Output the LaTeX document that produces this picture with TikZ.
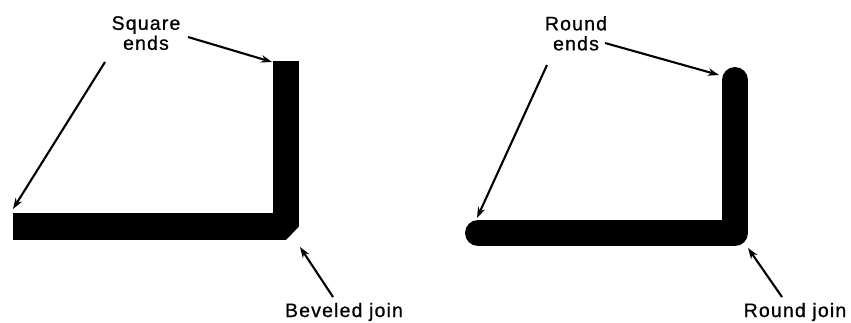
\documentclass[tikz,border=0pt]{standalone}
\usepackage{fontspec}
\setmainfont{Liberation Sans}[LetterSpace=6, FakeBold=0.8]
\usetikzlibrary{arrows.meta}

\tikzset{
  callout/.style={-{Stealth[length=11pt,width=7.5pt]}, line width=2.1pt},
  lbl/.style={font=\fontsize{19.5}{20}\selectfont, inner sep=0pt, align=center},
}

\begin{document}
\begin{tikzpicture}[x=1pt, y=-1pt]
    \useasboundingbox (0,0) rectangle (851,322);

    % square ends, beveled join
    \begin{scope}
        \draw[line width=26.5pt, line cap=butt, line join=bevel]
            (13,226.5) -- (286,226.5) -- (286,61);

        \node[lbl, anchor=north] (sqlabel) at (146,16) {Square\\ends};
        \node[lbl, anchor=base] (bevlabel) at (344,317) {Beveled join};

        \coordinate (sqtailL) at (105,62);
        \coordinate (sqtipL) at (13,209);
        \coordinate (sqtailR) at (188,37);
        \coordinate (sqtipR) at (272,62);
        \coordinate (bevtail) at (333,297);
        \coordinate (bevtip) at (300,247);

        \draw[callout] (sqtailL) -- (sqtipL);
        \draw[callout] (sqtailR) -- (sqtipR);
        \draw[callout] (bevtail) -- (bevtip);
    \end{scope}

    % round ends, round join
    \begin{scope}
        \draw[line width=26pt, line cap=round, line join=round]
            (478,233) -- (735,233) -- (735,80);

        \node[lbl, anchor=north] (rdlabel) at (576,16) {Round\\ends};
        \node[lbl, anchor=base] (rjlabel) at (795,317) {Round join};

        \coordinate (rdtailL) at (547,65);
        \coordinate (rdtipL) at (477,218);
        \coordinate (rdtailR) at (605,43);
        \coordinate (rdtipR) at (719,75);
        \coordinate (rjtail) at (782,297);
        \coordinate (rjtip) at (748,248);

        \draw[callout] (rdtailL) -- (rdtipL);
        \draw[callout] (rdtailR) -- (rdtipR);
        \draw[callout] (rjtail) -- (rjtip);
    \end{scope}
\end{tikzpicture}
\end{document}
